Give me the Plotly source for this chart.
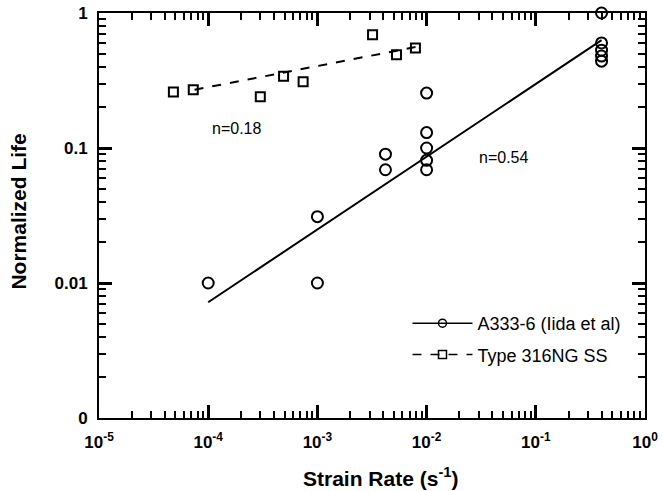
import plotly.graph_objects as go

# A333-6 (Iida et al) data
a333_x = [1e-4, 1e-3, 1e-3, 4.2e-3, 4.2e-3, 1e-2, 1e-2, 1e-2, 1e-2, 1e-2, 0.4, 0.4, 0.4, 0.4, 0.4]
a333_y = [0.01, 0.031, 0.01, 0.09, 0.069, 0.255, 0.13, 0.10, 0.081, 0.069, 1.0, 0.60, 0.53, 0.48, 0.44]
a333_fit_x = [1e-4, 0.4]
a333_fit_y = [0.0072, 0.63]

# Type 316NG SS data
ss_x = [4.8e-5, 7.3e-5, 3.0e-4, 4.9e-4, 7.4e-4, 3.2e-3, 5.3e-3, 7.9e-3]
ss_y = [0.26, 0.27, 0.24, 0.34, 0.31, 0.69, 0.49, 0.55]
ss_fit_x = [7.5e-5, 8e-3]
ss_fit_y = [0.27, 0.56]

x_tickvals = [1e-5, 1e-4, 1e-3, 1e-2, 1e-1, 1e0]
x_ticktext = ["<b>10<sup>-5</sup></b>", "<b>10<sup>-4</sup></b>", "<b>10<sup>-3</sup></b>",
              "<b>10<sup>-2</sup></b>", "<b>10<sup>-1</sup></b>", "<b>10<sup>0</sup></b>"]
y_tickvals = [1e-3, 1e-2, 1e-1, 1]
y_ticktext = ["<b>0</b>", "<b>0.01</b>", "<b>0.1</b>", "<b>1</b>"]

x_minor = [m * 10.0 ** e for e in range(-5, 0) for m in range(2, 10)]
y_minor = [m * 10.0 ** e for e in range(-3, 0) for m in range(2, 10)]

series_names = ["A333-6 (Iida et al)", "Type 316NG SS"]
fit_labels = ["n=0.18", "n=0.54"]

FONT = "Liberation Sans, Arial, sans-serif"

fig = go.Figure()
fig.add_trace(go.Scatter(x=a333_fit_x, y=a333_fit_y, mode="lines",
                         line=dict(color="black", width=2), showlegend=False))
fig.add_trace(go.Scatter(x=ss_fit_x, y=ss_fit_y, mode="lines",
                         line=dict(color="black", width=2, dash="dash"), showlegend=False))
fig.add_trace(go.Scatter(x=a333_x, y=a333_y, mode="markers",
                         marker=dict(symbol="circle-open", size=11, color="black", line=dict(width=2)),
                         showlegend=False, cliponaxis=False))
fig.add_trace(go.Scatter(x=ss_x, y=ss_y, mode="markers",
                         marker=dict(symbol="square-open", size=9, color="black", line=dict(width=2)),
                         showlegend=False))
# legend entries
fig.add_trace(go.Scatter(x=[None], y=[None], mode="lines+markers", name=series_names[0],
                         legendgroup="a",
                         line=dict(color="black", width=1.5),
                         marker=dict(symbol="circle-open", size=8, color="black", line=dict(width=1.5))))
fig.add_trace(go.Scatter(x=[None], y=[None], mode="lines+markers", name=series_names[1],
                         legendgroup="b",
                         line=dict(color="black", width=1.5, dash="dash"),
                         marker=dict(symbol="square-open", size=8, color="black", line=dict(width=1.5))))
# invisible trace carrying the minor-tick overlay axes
fig.add_trace(go.Scatter(x=[None], y=[None], xaxis="x2", yaxis="y2", showlegend=False,
                         hoverinfo="skip"))

fig.add_annotation(x=-3.74, y=-0.859, xref="x", yref="y", text=fit_labels[0], showarrow=False,
                   font=dict(family=FONT, size=16, color="black"))
fig.add_annotation(x=-1.294, y=-1.074, xref="x", yref="y", text=fit_labels[1], showarrow=False,
                   font=dict(family=FONT, size=16, color="black"))

# axis titles
fig.add_annotation(x=0.516, y=-0.145, xref="paper", yref="paper", yanchor="middle",
                   text="<b>Strain Rate (s<sup>-1</sup>)</b>", showarrow=False,
                   font=dict(family=FONT, size=21, color="black"))
fig.add_annotation(x=-0.147, y=0.509, xref="paper", yref="paper", xanchor="center", yanchor="middle",
                   textangle=-90, text="<b>Normalized Life</b>", showarrow=False,
                   font=dict(family=FONT, size=21, color="black"))

common = dict(type="log", showgrid=False, zeroline=False, automargin=False,
              showline=True, linecolor="black", linewidth=2, mirror="allticks")

fig.update_layout(
    xaxis=dict(range=[-5, 0], tickvals=x_tickvals, ticktext=x_ticktext,
               ticks="inside", ticklen=13, tickwidth=2.5, tickcolor="black", ticklabelstandoff=8,
               tickfont=dict(family=FONT, size=17, color="black"), **common),
    yaxis=dict(range=[-3, 0], tickvals=y_tickvals, ticktext=y_ticktext,
               ticks="inside", ticklen=13, tickwidth=2.5, tickcolor="black", ticklabelstandoff=6,
               tickfont=dict(family=FONT, size=17, color="black"), **common),
    xaxis2=dict(range=[-5, 0], overlaying="x", anchor="y", side="bottom",
                tickvals=x_minor, ticks="inside", ticklen=7, tickwidth=2, tickcolor="black",
                showticklabels=False, **common),
    yaxis2=dict(range=[-3, 0], overlaying="y", anchor="x", side="left",
                tickvals=y_minor, ticks="inside", ticklen=7, tickwidth=2, tickcolor="black",
                showticklabels=False, **common),
    width=663, height=491,
    margin=dict(l=99, r=18, t=13, b=73),
    paper_bgcolor="white", plot_bgcolor="white",
    legend=dict(x=0.565, y=0.279, xanchor="left", yanchor="top", bgcolor="rgba(0,0,0,0)",
                font=dict(family=FONT, size=18, color="black"), itemwidth=60,
                tracegroupgap=5),
)

fig.write_html("out.html")
